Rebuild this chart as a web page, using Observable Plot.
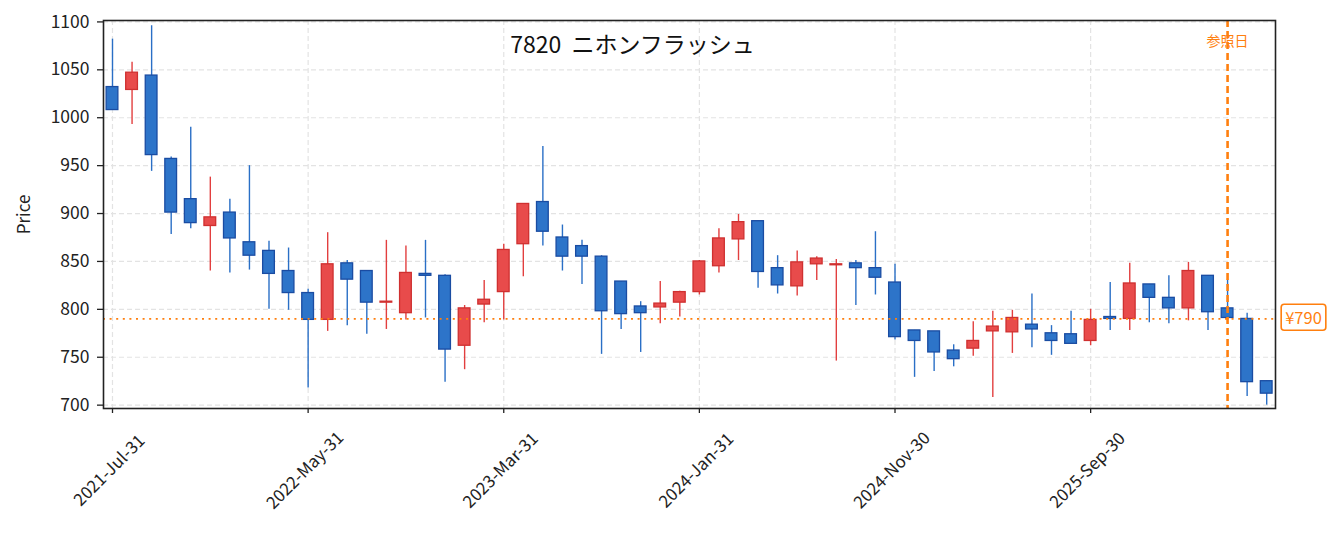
<!DOCTYPE html>
<html>
<head>
<meta charset="utf-8">
<script src="https://cdn.jsdelivr.net/npm/d3@7"></script>
<script src="https://cdn.jsdelivr.net/npm/@observablehq/plot@0.6"></script>
<style>
  html, body { margin: 0; padding: 0; background: #fff; }
  #chart svg { display: block; }
</style>
</head>
<body>
<div id="chart"></div>
<script>
const title = "7820\u00a0\u00a0ニホンフラッシュ";
const yLabel = "Price";
const refLabel = "参照日";

const dates = [
  "2021-07-31","2021-08-31","2021-09-30","2021-10-31","2021-11-30","2021-12-31",
  "2022-01-31","2022-02-28","2022-03-31","2022-04-30","2022-05-31","2022-06-30",
  "2022-07-31","2022-08-31","2022-09-30","2022-10-31","2022-11-30","2022-12-31",
  "2023-01-31","2023-02-28","2023-03-31","2023-04-30","2023-05-31","2023-06-30",
  "2023-07-31","2023-08-31","2023-09-30","2023-10-31","2023-11-30","2023-12-31",
  "2024-01-31","2024-02-29","2024-03-31","2024-04-30","2024-05-31","2024-06-30",
  "2024-07-31","2024-08-31","2024-09-30","2024-10-31","2024-11-30","2024-12-31",
  "2025-01-31","2025-02-28","2025-03-31","2025-04-30","2025-05-31","2025-06-30",
  "2025-07-31","2025-08-31","2025-09-30","2025-10-31","2025-11-30","2025-12-31",
  "2026-01-31","2026-02-28","2026-03-31","2026-04-30","2026-05-31","2026-06-30"
];
const open  = [1032,1029,1044,957,915,887,901,870,861,840, 817,789,848,840,807,796,837,835,762,805,
               818,868,912,875,866,855,829,803,802,807, 818,845,873,892,843,824,847,846,848,843,
               828,778,777,757,759,777,776,784,775,774, 767,792,790,826,812,801,835,801,790,725];
const high  = [1082,1058,1096,959,990,938,915,950,871,864, 821,880,851,840,872,866,872,836,804,830,
               868,910,970,888,872,856,829,808,829,819, 851,884,899,892,856,861,855,852,851,881,
               847,778,777,763,787,798,799,816,783,798, 800,828,848,826,835,849,835,831,796,725];
const low   = [1008,993,944,878,884,840,838,841,800,799, 718,777,783,774,779,789,791,724,737,786,
               789,834,866,840,826,753,779,755,785,792, 815,838,851,822,816,814,830,746,804,815,
               768,729,735,740,751,708,754,760,752,764, 762,778,778,786,785,788,778,789,709,700];
const close = [1008,1047,961,901,890,896,874,856,837,817, 789,847,831,807,808,838,835,758,801,810,
               862,910,881,855,855,798,795,796,806,818, 850,874,891,839,825,849,853,847,843,833,
               771,767,755,748,767,782,791,779,767,764, 789,790,827,812,801,840,797,791,724,712];

const tickIdx = [0, 10, 20, 30, 40, 50];
const tickLabels = ["2021-Jul-31","2022-May-31","2023-Mar-31","2024-Jan-31","2024-Nov-30","2025-Sep-30"];
const yTicks = [700, 750, 800, 850, 900, 950, 1000, 1050, 1100];
const refDate = "2026-04-30";
const refPrice = 790;

const data = dates.map((d, i) => ({
  i, date: d, open: open[i], high: high[i], low: low[i], close: close[i],
  up: close[i] >= open[i]
}));
const ticks = tickIdx.map((i, k) => ({i, label: tickLabels[k]}));
const refIdx = dates.indexOf(refDate);

const upFill = "#e84b4b", upEdge = "#cf3030", upWick = "#e23f3f";
const dnFill = "#2d74c9", dnEdge = "#1a4ca2", dnWick = "#2a6fc6";
const orange = "#ff7f0e";
const font = "'Noto Sans CJK JP', 'Noto Sans', sans-serif";

const minLow = d3.min(low), maxHigh = d3.max(high);

const chart = Plot.plot({
  width: 1339,
  height: 536,
  marginLeft: 103,
  marginRight: 64,
  marginTop: 20,
  marginBottom: 128,
  style: {fontFamily: font, background: "#fff", color: "#222"},
  x: {type: "linear", domain: [-0.46, dates.length - 0.55]},
  y: {domain: [minLow * 0.995, maxHigh * 1.005]},
  marks: [
    Plot.gridY({ticks: yTicks, stroke: "#e3e3e3", strokeOpacity: 1, strokeWidth: 1.2, strokeDasharray: "5,3"}),
    Plot.gridX({ticks: tickIdx, stroke: "#e3e3e3", strokeOpacity: 1, strokeWidth: 1.2, strokeDasharray: "5,3"}),
    Plot.axisY({ticks: yTicks, tickSize: 6, tickPadding: 8, fontSize: 17.5, tickFormat: d => String(d),
      label: null, stroke: "#222", strokeWidth: 1.3}),
    Plot.axisX({ticks: tickIdx, tickSize: 5, tickFormat: () => "", label: null, stroke: "#222", strokeWidth: 1.3}),
    Plot.text(ticks, {x: "i", text: "label", frameAnchor: "bottom", dx: -3, dy: 62, rotate: -45,
      textAnchor: "middle", lineAnchor: "middle", fontSize: 17, fill: "#222"}),
    Plot.ruleX(data, {x: "i", y1: "low", y2: "high", stroke: d => d.up ? upWick : dnWick, strokeWidth: 1.4}),
    Plot.rect(data, {x1: d => d.i - 0.3, x2: d => d.i + 0.3, y1: "open", y2: "close",
      fill: d => d.up ? upFill : dnFill, stroke: d => d.up ? upEdge : dnEdge, strokeWidth: 1.3}),
    Plot.ruleY([refPrice], {y: d => d, stroke: orange, strokeWidth: 1.6, strokeDasharray: "2,4.6"}),
    Plot.ruleX([refIdx], {x: d => d, stroke: orange, strokeWidth: 2.6, strokeDasharray: "7,4"}),
    Plot.text([refIdx], {x: d => d, frameAnchor: "top", lineAnchor: "middle", dy: 21, text: () => refLabel,
      fill: orange, fontSize: 14}),
    Plot.text([refPrice], {y: d => d, frameAnchor: "right", dx: 28, text: d => `¥${d}`, fill: orange,
      fontSize: 16.5, textAnchor: "middle", className: "price-label"}),
    Plot.text([title], {frameAnchor: "top", lineAnchor: "middle", textAnchor: "middle", dx: -57, dy: 25,
      text: d => d, fontSize: 23, fill: "#111"}),
    Plot.text([yLabel], {frameAnchor: "left", textAnchor: "middle", lineAnchor: "middle", dx: -79, rotate: -90,
      text: d => d, fontSize: 17, fill: "#222"}),
    Plot.frame({stroke: "#222", strokeWidth: 1.6})
  ]
});

document.getElementById("chart").appendChild(chart);

// rounded box behind the price label
const g = chart.querySelector("g.price-label");
if (g) {
  const t = g.querySelector("text");
  const bb = t.getBBox();
  const tr = t.getAttribute("transform");
  const ns = "http://www.w3.org/2000/svg";
  const r = document.createElementNS(ns, "rect");
  r.setAttribute("x", bb.x - 4);
  r.setAttribute("y", bb.y - 1);
  r.setAttribute("width", bb.width + 8);
  r.setAttribute("height", bb.height + 2);
  r.setAttribute("rx", 3);
  r.setAttribute("fill", "#fff");
  r.setAttribute("stroke", orange);
  r.setAttribute("stroke-width", 1.6);
  if (tr) r.setAttribute("transform", tr);
  g.insertBefore(r, t);
}
</script>
</body>
</html>
